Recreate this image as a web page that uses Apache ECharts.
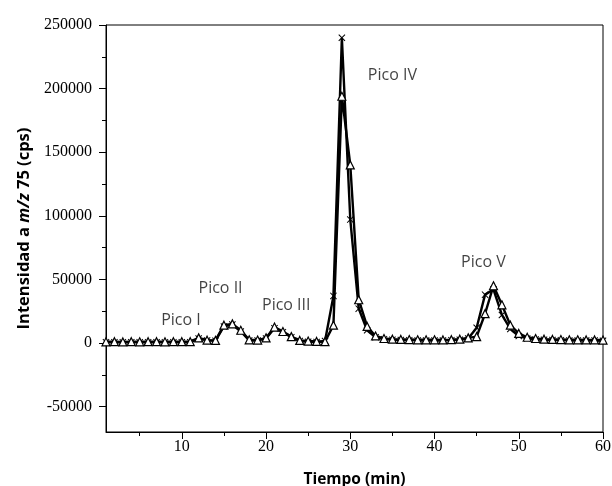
<!DOCTYPE html>
<html>
<head>
<meta charset="utf-8">
<script src="https://cdn.jsdelivr.net/npm/echarts@6/dist/echarts.min.js"></script>
<style>
  html, body { margin: 0; padding: 0; background: #fff; }
  #chart { width: 612px; height: 486px; }
</style>
</head>
<body>
<div id="chart"></div>
<script>
// tiempo (min)
var tiempo = [1, 2, 3, 4, 5, 6, 7, 8, 9, 10, 11, 12, 13, 14, 15, 16, 17, 18, 19, 20,
  21, 22, 23, 24, 25, 26, 27, 28, 29, 30, 31, 32, 33, 34, 35, 36, 37, 38, 39, 40,
  41, 42, 43, 44, 45, 46, 47, 48, 49, 50, 51, 52, 53, 54, 55, 56, 57, 58, 59, 60];

// serie con triangulos
var serieTriangulo = [900, 1000, 800, 1000, 900, 1000, 1000, 900, 1000, 1000,
  1000, 4000, 2200, 2000, 14000, 15000, 10000, 2500, 2300, 4000,
  12500, 9000, 5000, 2000, 1500, 1200, 1000, 14000, 194000, 140000,
  34000, 13000, 5500, 3500, 3000, 2800, 2700, 2500, 2500, 2500,
  2400, 2600, 3000, 4000, 5000, 23000, 45000, 30000, 14000, 7500,
  4500, 3500, 3000, 2800, 2700, 2500, 2500, 2400, 2400, 2300];

// serie con cruces
var serieCruz = [500, 600, 500, 600, 500, 500, 600, 500, 500, 600,
  500, 3500, 2000, 1800, 13000, 14500, 9000, 2000, 2000, 3500,
  11500, 8500, 4500, 1500, 1000, 800, 1500, 37000, 240000, 97000,
  27000, 10000, 4500, 3000, 2500, 2300, 2200, 2000, 2000, 2000,
  2000, 2200, 2500, 3500, 12000, 38000, 42000, 22000, 11000, 5500,
  3500, 2800, 2500, 2300, 2200, 2000, 2000, 2000, 1900, 1800];

// etiquetas de picos (posicion en unidades de datos)
var picoNombres = ["Pico I", "Pico II", "Pico III", "Pico IV", "Pico V"];
var picoX = [9.9, 14.6, 22.4, 35.0, 45.8];
var picoY = [17600, 42800, 29400, 210600, 63500];

// ticks
var yMayores = [-50000, 0, 50000, 100000, 150000, 200000, 250000];
var yMenores = [-25000, 25000, 75000, 125000, 175000, 225000];
var xMayores = [10, 20, 30, 40, 50, 60];
var xMenores = [5, 15, 25, 35, 45, 55];

var myChart = echarts.init(document.getElementById("chart"));

let datosT = [];
let datosC = [];
tiempo.forEach((t, i) => {
  datosT.push([t, serieTriangulo[i]]);
  datosC.push([t, serieCruz[i]]);
});
let etiquetas = [];
picoNombres.forEach((n, i) => {
  etiquetas.push({ name: n, value: [picoX[i], picoY[i]] });
});

var cruz = "path://M0,1L1,0L5,4L9,0L10,1L6,5L10,9L9,10L5,6L1,10L0,9L4,5Z";
var serif = "Liberation Serif";
var sans = "Open Sans";

var option = {
  animation: false,
  grid: {
    left: 106,
    right: 9,
    top: 25,
    bottom: 54,
    outerBoundsMode: "none",
    show: true,
    borderColor: "#000",
    borderWidth: 1
  },
  xAxis: [
    {
      type: "value",
      min: 1,
      max: 60,
      name: "Tiempo (min)",
      nameLocation: "middle",
      nameGap: 40,
      nameTextStyle: { fontFamily: sans, fontWeight: "bold", fontSize: 15.5, color: "#000" },
      axisLine: { show: true, onZero: false, lineStyle: { color: "#000", width: 1 } },
      axisTick: { show: true, length: 7, customValues: xMayores, lineStyle: { color: "#000" } },
      axisLabel: { customValues: xMayores, fontFamily: serif, fontSize: 16, color: "#000", margin: 7 },
      splitLine: { show: false }
    },
    {
      // ticks menores
      type: "value",
      min: 1,
      max: 60,
      position: "bottom",
      axisLine: { show: false, onZero: false },
      axisTick: { show: true, length: 4, customValues: xMenores, lineStyle: { color: "#000" } },
      axisLabel: { show: false },
      splitLine: { show: false }
    }
  ],
  yAxis: [
    {
      type: "value",
      min: -70000,
      max: 250000,
      name: "{b|Intensidad a }{i|m/z}{b| 75 (cps)}",
      nameLocation: "middle",
      nameGap: 72,
      nameTextStyle: {
        rich: {
          b: { fontFamily: sans, fontWeight: "bold", fontSize: 16.5, color: "#000" },
          i: { fontFamily: sans, fontWeight: "bold", fontStyle: "italic", fontSize: 16.5, color: "#000" }
        }
      },
      axisLine: { show: true, onZero: false, lineStyle: { color: "#000", width: 1 } },
      axisTick: { show: true, length: 7, customValues: yMayores, lineStyle: { color: "#000" } },
      axisLabel: {
        customValues: yMayores,
        formatter: function (v) { return String(v); },
        fontFamily: serif, fontSize: 16, color: "#000", margin: 14
      },
      splitLine: { show: false }
    },
    {
      type: "value",
      min: -70000,
      max: 250000,
      position: "left",
      axisLine: { show: false, onZero: false },
      axisTick: { show: true, length: 4, customValues: yMenores, lineStyle: { color: "#000" } },
      axisLabel: { show: false },
      splitLine: { show: false }
    }
  ],
  series: [
    {
      name: "triangulo",
      type: "line",
      data: datosT,
      symbol: "triangle",
      symbolSize: 8,
      showAllSymbol: true,
      lineStyle: { color: "#000", width: 2.4 },
      itemStyle: { color: "#fff", borderColor: "#000", borderWidth: 1.2 },
      z: 3
    },
    {
      name: "cruz",
      type: "line",
      data: datosC,
      symbol: cruz,
      symbolSize: 7,
      showAllSymbol: true,
      lineStyle: { color: "#000", width: 2.4 },
      itemStyle: { color: "#000" },
      z: 2
    },
    {
      name: "picos",
      type: "scatter",
      data: etiquetas,
      symbolSize: 1,
      itemStyle: { color: "rgba(0,0,0,0)" },
      label: {
        show: true,
        position: "inside",
        formatter: "{b}",
        fontFamily: sans,
        fontSize: 16,
        color: "#111"
      },
      z: 5
    }
  ]
};

myChart.setOption(option, true);
</script>
</body>
</html>
